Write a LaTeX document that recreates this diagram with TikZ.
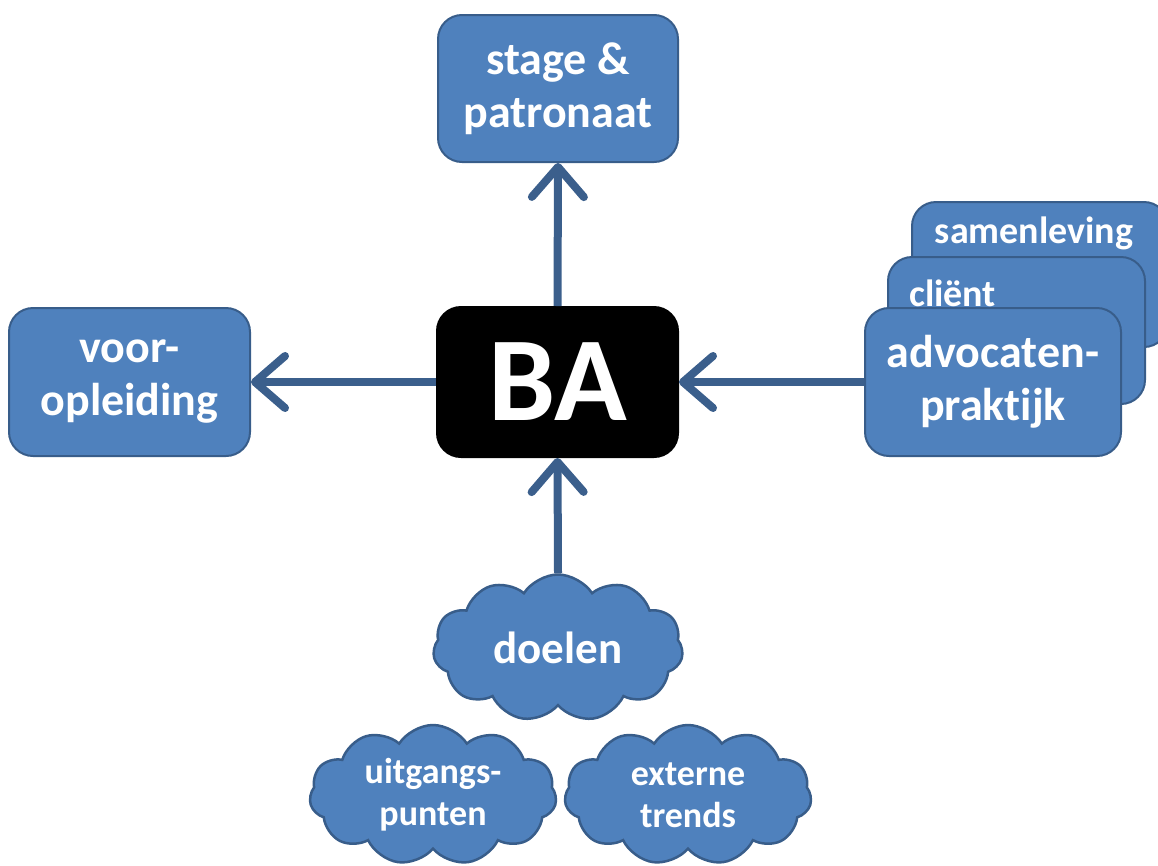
\documentclass[tikz,border=0pt]{standalone}
\usepackage{fontspec}
\setmainfont[Ligatures=NoCommon]{Carlito}
\usetikzlibrary{positioning,arrows.meta,shapes.symbols}
\definecolor{boxfill}{HTML}{4F81BD}
\definecolor{boxline}{HTML}{385D8A}
\definecolor{arrowblue}{HTML}{3B5F8C}
\tikzset{
	blok/.style={draw=boxline, fill=boxfill, line width=2pt, rounded corners=24pt,
		text=white, align=center, inner sep=0pt,
		font=\bfseries\fontsize{46}{53}\selectfont},
	wolk/.style={cloud, cloud puffs=11, cloud puff arc=115, aspect=1.7,
		draw=boxline, fill=boxfill, line width=2.5pt, text=white, align=center,
		inner sep=0pt, font=\bfseries\fontsize{36}{42}\selectfont},
	lbl/.style={text=white, inner sep=0pt, font=\bfseries\fontsize{38}{44}\selectfont},
	pijl/.style={arrowblue, line width=8pt, -{Straight Barb[length=30pt,width=52pt,round]}}
}
\begin{document}
\begin{tikzpicture}[x=1pt,y=-1pt]
	\useasboundingbox (0,0) rectangle (1158,865);
	% middle and the two plain boxes
	\node[blok, fill=black, draw=black, minimum width=241pt, minimum height=150pt,
		font=\bfseries\fontsize{120}{120}\selectfont] (ba) at (557.5,382) {BA};
	\node[blok, minimum width=240pt, minimum height=147pt] (stage) at (558,88.5) {stage \&\\patronaat};
	\node[blok, minimum width=241pt, minimum height=148pt] (voor) at (129.5,382) {voor-\\opleiding};
	% stack on the right
	\node[blok, minimum width=256pt, minimum height=145pt] (samen) at (1040,274.5) {};
	\node[lbl] (samentxt) at (1034,233) {samenleving};
	\node[blok, minimum width=257pt, minimum height=147pt] (client) at (1016.5,330.5) {};
	\node[lbl, anchor=west] (clienttxt) at (909,293) {cliënt};
	\node[blok, minimum width=256pt, minimum height=148pt] (advo) at (993,382) {advocaten-\\praktijk};
	% clouds
	\node[wolk, minimum width=250pt, minimum height=147pt,
		font=\bfseries\fontsize{45}{50}\selectfont] (doelen) at (558,648) {doelen};
	\node[wolk, minimum width=247pt, minimum height=140pt] (uitgang) at (433,795) {uitgangs-\\punten};
	\node[wolk, minimum width=247pt, minimum height=140pt] (trends) at (688,795) {externe\\trends};
	% arrows
	\draw[pijl] (ba.north) -- (stage.south);
	\draw[pijl] (ba.west) -- (voor.east);
	\draw[pijl] (advo.west) -- (ba.east);
	\draw[pijl] (doelen.north) -- (ba.south);
\end{tikzpicture}
\end{document}
